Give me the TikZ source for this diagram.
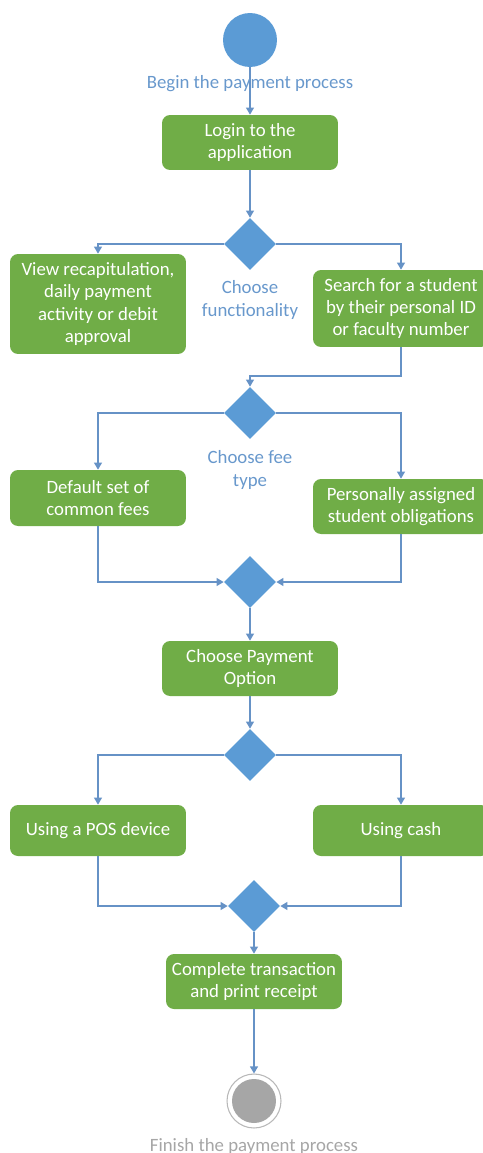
\documentclass[tikz,border=0pt]{standalone}
\usepackage{fontspec}
\setmainfont{Carlito}
\usetikzlibrary{shapes.geometric,arrows.meta}

\definecolor{actgreen}{RGB}{112,173,71}
\definecolor{decblue}{RGB}{91,155,213}
\definecolor{lineblue}{RGB}{102,146,198}
\definecolor{labelblue}{RGB}{104,152,204}
\definecolor{endgray}{RGB}{166,166,166}

\tikzset{
	action/.style={fill=actgreen, text=white, rounded corners=0.16cm, align=center,
		minimum width=3.52cm, minimum height=1.1cm, inner sep=2pt},
	decision/.style={diamond, fill=decblue, minimum width=1.04cm, minimum height=1.04cm, inner sep=0pt},
	flow/.style={draw=lineblue, line width=0.8pt, -{Triangle[length=4pt,width=4.5pt]}},
	link/.style={draw=lineblue, line width=0.8pt},
	note/.style={text=labelblue, align=center}
}

\begin{document}
\begin{tikzpicture}[x=0.02cm, y=-0.02cm, font=\fontsize{10.7}{12.6}\selectfont]

	\useasboundingbox (0,0) rectangle (483,1153);

	% begin
	\node[circle, fill=decblue, minimum size=1.08cm, inner sep=0pt] (start) at (250,40) {};

	% actions
	\node[action] (login) at (250,142.5) {Login to the\\application};
	\node[action, minimum height=2.0cm] (view) at (98,304) {View recapitulation,\\daily payment\\activity or debit\\approval};
	\node[action, minimum height=1.54cm] (search) at (401,308.5) {Search for a student\\by their personal ID\\or faculty number};
	\node[action, minimum height=1.12cm] (default) at (98,498) {Default set of\\common fees};
	\node[action] (personal) at (401,506.5) {Personally assigned\\student obligations};
	\node[action] (payopt) at (250,668.5) {Choose Payment\\Option};
	\node[action, minimum height=1.02cm] (pos) at (98,830.5) {Using a POS device};
	\node[action, minimum height=1.02cm] (cash) at (401,830.5) {Using cash};
	\node[action] (complete) at (254,981.5) {Complete transaction\\and print receipt};

	% decisions
	\node[decision] (d1) at (250,244) {};
	\node[decision] (d2) at (250,413) {};
	\node[decision] (d3) at (250,582) {};
	\node[decision] (d4) at (250,755) {};
	\node[decision] (d5) at (254,906) {};

	% finish
	\node[circle, draw=endgray!80, line width=0.6pt, fill=white, minimum size=1.08cm, inner sep=0pt] (finish) at (254,1101) {};
	\fill[endgray] (finish) circle[radius=0.44cm];

	% junction
	\coordinate (j1) at (250,376);

	% flows
	\draw[flow] (start) -- (login);
	\draw[flow] (login) -- (d1);
	\draw[flow] (d1.west) -| (view.north);
	\draw[flow] (d1.east) -| (search.north);
	\draw[flow] (search.south) |- (j1) -- (d2.north);
	\draw[flow] (d2.west) -| (default.north);
	\draw[flow] (d2.east) -| (personal.north);
	\draw[flow] (default.south) |- (d3.west);
	\draw[flow] (personal.south) |- (d3.east);
	\draw[flow] (d3) -- (payopt);
	\draw[flow] (payopt) -- (d4);
	\draw[flow] (d4.west) -| (pos.north);
	\draw[flow] (d4.east) -| (cash.north);
	\draw[flow] (pos.south) |- (d5.west);
	\draw[flow] (cash.south) |- (d5.east);
	\draw[flow] (d5) -- (complete);
	\draw[flow] (complete) -- (finish);

	% labels
	\node[note] (lbegin) at (250,84) {Begin the payment process};
	\node[note] (lfunc) at (250,300) {Choose\\functionality};
	\node[note] (lfee) at (250,470) {Choose fee\\type};
	\node[text=endgray] (lfinish) at (254,1146) {Finish the payment process};

\end{tikzpicture}
\end{document}
